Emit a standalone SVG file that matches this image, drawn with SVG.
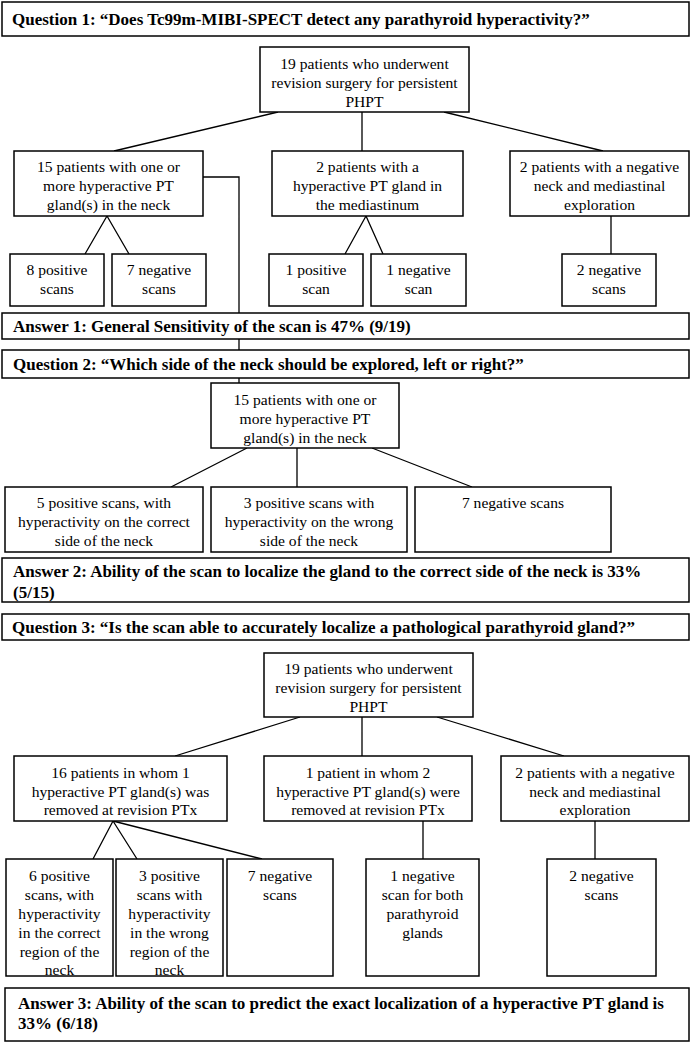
<svg xmlns="http://www.w3.org/2000/svg" width="699" height="1043" viewBox="0 0 699 1043">
<style>
.bg{fill:#fff}
.box{fill:#fff;stroke:#000;stroke-width:1.5}
.fr{fill:none;stroke:#000;stroke-width:1.5}
.t{font-family:"Liberation Serif","Times New Roman",serif;font-size:15.6px;text-anchor:middle;fill:#000}
.b{font-family:"Liberation Serif","Times New Roman",serif;font-size:17px;font-weight:bold;fill:#000}
.c{fill:none;stroke:#000;stroke-width:1.3}
</style>
<rect class="bg" x="0" y="0" width="699" height="1043"/>
<g id="connectors">
<path class="c" d="M278,112 L114,151 M362,112 V151 M444,112 L603,151 M203,177 H239 V383 M107,216 L85,254 M107,216 L129,254 M366,216 L345,254 M366,216 L383,254 M611,216 V254"/>
<path class="c" d="M247,448 L171,487 M297,448 V487 M372,448 L472,487"/>
<path class="c" d="M300,717 L175,756 M362,717 V756 M437,717 L564,756 M113,821 L93,859 M113,821 L137,859 M113,821 L262,859 M423,821 V859 M595,821 V859"/>
</g>
<g id="q1"><rect class="box" x="2" y="2" width="687" height="34"/><text class="b" x="12" y="25">Question 1: “Does Tc99m-MIBI-SPECT detect any parathyroid hyperactivity?”</text></g>
<g id="n1"><rect class="box" x="260" y="47" width="209" height="65"/><text class="t" x="364.5" y="69">19 patients who underwent</text><text class="t" x="364.5" y="88">revision surgery for persistent</text><text class="t" x="364.5" y="107">PHPT</text></g>
<g id="n1a"><rect class="box" x="14" y="151" width="189" height="65"/><text class="t" x="108.5" y="172">15 patients with one or</text><text class="t" x="108.5" y="191">more hyperactive PT</text><text class="t" x="108.5" y="210">gland(s) in the neck</text></g>
<g id="n1b"><rect class="box" x="272" y="151" width="191" height="65"/><text class="t" x="367.5" y="172">2 patients with a</text><text class="t" x="367.5" y="191">hyperactive PT gland in</text><text class="t" x="367.5" y="210">the mediastinum</text></g>
<g id="n1c"><rect class="box" x="510" y="151" width="179" height="65"/><text class="t" x="599.5" y="172">2 patients with a negative</text><text class="t" x="599.5" y="191">neck and mediastinal</text><text class="t" x="599.5" y="210">exploration</text></g>
<g id="s1"><rect class="box" x="10" y="254" width="94" height="52"/><text class="t" x="57" y="275">8 positive</text><text class="t" x="57" y="294">scans</text></g>
<g id="s2"><rect class="box" x="112" y="254" width="94" height="52"/><text class="t" x="159" y="275">7 negative</text><text class="t" x="159" y="294">scans</text></g>
<g id="s3"><rect class="box" x="269" y="254" width="94" height="52"/><text class="t" x="316" y="275">1 positive</text><text class="t" x="316" y="294">scan</text></g>
<g id="s4"><rect class="box" x="371" y="254" width="95" height="52"/><text class="t" x="418.5" y="275">1 negative</text><text class="t" x="418.5" y="294">scan</text></g>
<g id="s5"><rect class="box" x="562" y="254" width="94" height="52"/><text class="t" x="609" y="275">2 negative</text><text class="t" x="609" y="294">scans</text></g>
<g id="a1"><rect class="box" x="2" y="313" width="687" height="26"/><text class="b" x="13" y="332">Answer 1: General Sensitivity of the scan is 47% (9/19)</text></g>
<g id="q2"><rect class="box" x="2" y="350" width="687" height="28"/><text class="b" x="13" y="370">Question 2: “Which side of the neck should be explored, left or right?”</text></g>
<g id="n2"><rect class="box" x="211" y="383" width="188" height="65"/><text class="t" x="305" y="405">15 patients with one or</text><text class="t" x="305" y="424">more hyperactive PT</text><text class="t" x="305" y="443">gland(s) in the neck</text></g>
<g id="r1"><rect class="box" x="5" y="487" width="198" height="65"/><text class="t" x="104" y="508">5 positive scans, with</text><text class="t" x="104" y="527">hyperactivity on the correct</text><text class="t" x="104" y="546">side of the neck</text></g>
<g id="r2"><rect class="box" x="211" y="487" width="196" height="65"/><text class="t" x="309" y="508">3 positive scans with</text><text class="t" x="309" y="527">hyperactivity on the wrong</text><text class="t" x="309" y="546">side of the neck</text></g>
<g id="r3"><rect class="box" x="415" y="487" width="196" height="65"/><text class="t" x="513" y="508">7 negative scans</text></g>
<g id="a2"><rect class="box" x="2" y="558" width="687" height="44"/><text class="b" x="13" y="577">Answer 2: Ability of the scan to localize the gland to the correct side of the neck is 33%</text><text class="b" x="13" y="598">(5/15)</text></g>
<g id="q3"><rect class="box" x="2" y="614" width="687" height="26"/><text class="b" x="12" y="633">Question 3: “Is the scan able to accurately localize a pathological parathyroid gland?”</text></g>
<g id="n3"><rect class="box" x="264" y="653" width="209" height="64"/><text class="t" x="368.5" y="674">19 patients who underwent</text><text class="t" x="368.5" y="693">revision surgery for persistent</text><text class="t" x="368.5" y="712">PHPT</text></g>
<g id="m1"><rect class="box" x="14" y="756" width="213" height="65"/><text class="t" x="120.5" y="778">16 patients in whom 1</text><text class="t" x="120.5" y="797">hyperactive PT gland(s) was</text><text class="t" x="120.5" y="815">removed at revision PTx</text></g>
<g id="m2"><rect class="box" x="264" y="756" width="208" height="65"/><text class="t" x="368" y="778">1 patient in whom 2</text><text class="t" x="368" y="797">hyperactive PT gland(s) were</text><text class="t" x="368" y="815">removed at revision PTx</text></g>
<g id="m3"><rect class="box" x="501" y="756" width="188" height="65"/><text class="t" x="595" y="778">2 patients with a negative</text><text class="t" x="595" y="797">neck and mediastinal</text><text class="t" x="595" y="815">exploration</text></g>
<g id="p1"><rect class="bg" x="6" y="859" width="107" height="117"/><text class="t" x="59.5" y="881">6 positive</text><text class="t" x="59.5" y="900">scans, with</text><text class="t" x="59.5" y="919">hyperactivity</text><text class="t" x="59.5" y="938">in the correct</text><text class="t" x="59.5" y="957">region of the</text><text class="t" x="59.5" y="975">neck</text><rect class="fr" x="6" y="859" width="107" height="117"/></g>
<g id="p2"><rect class="bg" x="116" y="859" width="107" height="117"/><text class="t" x="169.5" y="881">3 positive</text><text class="t" x="169.5" y="900">scans with</text><text class="t" x="169.5" y="919">hyperactivity</text><text class="t" x="169.5" y="938">in the wrong</text><text class="t" x="169.5" y="957">region of the</text><text class="t" x="169.5" y="975">neck</text><rect class="fr" x="116" y="859" width="107" height="117"/></g>
<g id="p3"><rect class="box" x="227" y="859" width="106" height="117"/><text class="t" x="280" y="881">7 negative</text><text class="t" x="280" y="900">scans</text></g>
<g id="p4"><rect class="box" x="366" y="859" width="113" height="117"/><text class="t" x="422.5" y="881">1 negative</text><text class="t" x="422.5" y="900">scan for both</text><text class="t" x="422.5" y="919">parathyroid</text><text class="t" x="422.5" y="938">glands</text></g>
<g id="p5"><rect class="box" x="547" y="859" width="109" height="117"/><text class="t" x="601.5" y="881">2 negative</text><text class="t" x="601.5" y="900">scans</text></g>
<g id="a3"><rect class="box" x="5" y="988" width="684" height="53"/><text class="b" x="18" y="1009">Answer 3: Ability of the scan to predict the exact localization of a hyperactive PT gland is</text><text class="b" x="18" y="1029">33% (6/18)</text></g>
</svg>
